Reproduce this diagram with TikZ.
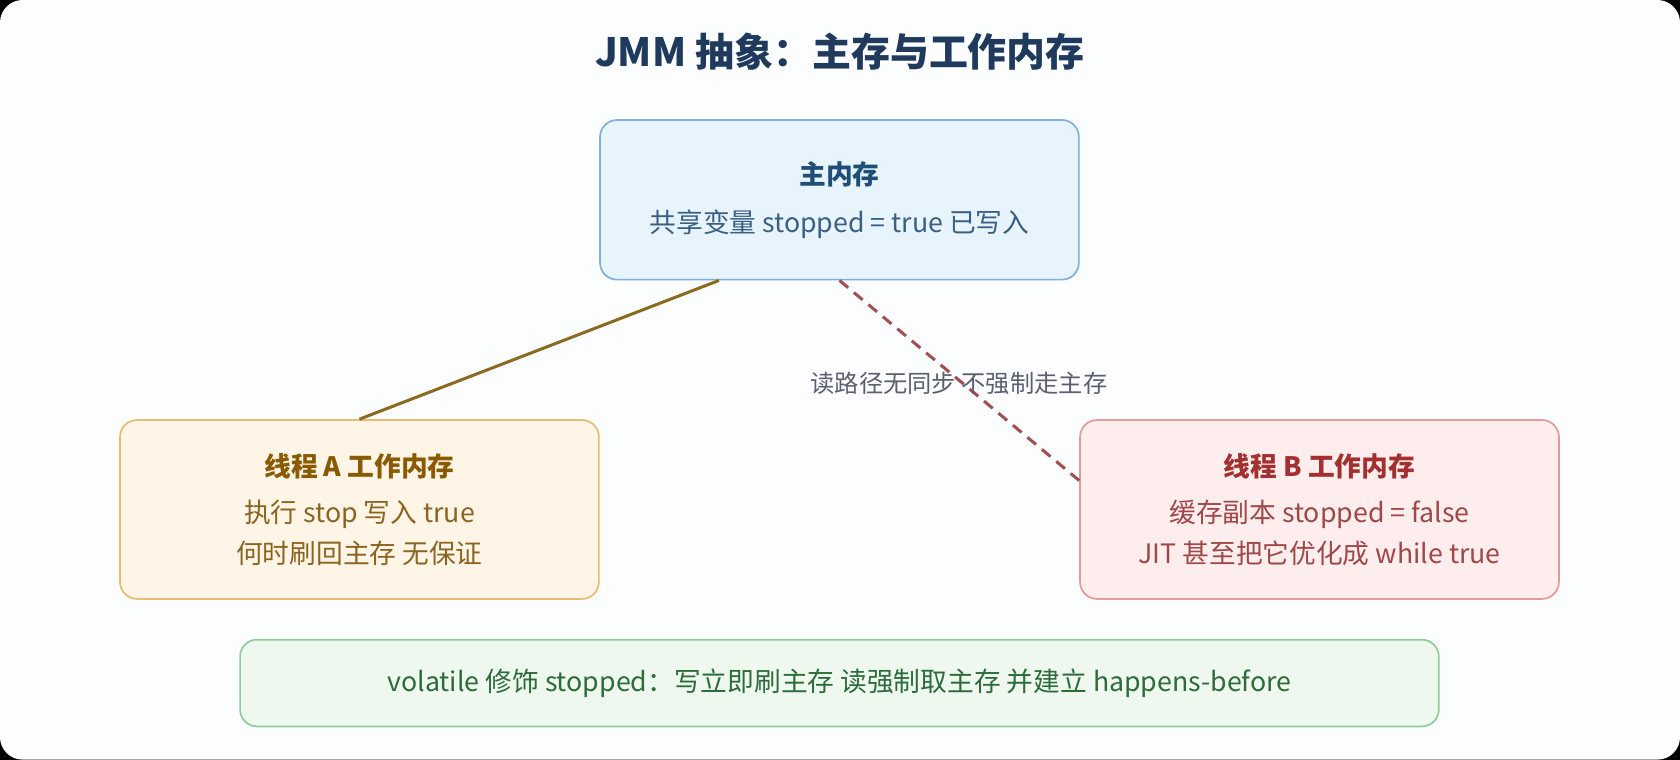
\documentclass[tikz,border=0pt]{standalone}
\usepackage{fontspec}
\setmainfont{Noto Sans CJK SC}
\usetikzlibrary{calc}
\definecolor{cardbg}{HTML}{FBFDFF}
\definecolor{titlec}{HTML}{1F3A5C}
\definecolor{mainfill}{HTML}{E8F4FC}
\definecolor{maindraw}{HTML}{7FB0DC}
\definecolor{maintitle}{HTML}{1F4E79}
\definecolor{maintext}{HTML}{3A5F85}
\definecolor{afill}{HTML}{FFF5E6}
\definecolor{adraw}{HTML}{E4BC72}
\definecolor{atitle}{HTML}{8A5A00}
\definecolor{atext}{HTML}{8A6420}
\definecolor{bfill}{HTML}{FDEDED}
\definecolor{bdraw}{HTML}{E09A9A}
\definecolor{btitle}{HTML}{A33030}
\definecolor{btext}{HTML}{A04848}
\definecolor{vfill}{HTML}{EEF8EE}
\definecolor{vdraw}{HTML}{8FCB9B}
\definecolor{vtext}{HTML}{2D6B3A}
\definecolor{alink}{HTML}{8B6A20}
\definecolor{blink}{HTML}{A05050}
\definecolor{note}{HTML}{5A6070}
\tikzset{
  box/.style={draw, rounded corners=9pt, line width=0.9pt, align=center,
    font=\fontsize{14.2}{21.5}\selectfont, inner sep=0pt},
}
\begin{document}
\begin{tikzpicture}[x=0.02cm, y=-0.02cm]
  \useasboundingbox (0,0) rectangle (1568,709);
  \fill[black] (0,0) rectangle (1568,709);
  \fill[cardbg, rounded corners=12pt] (0,0) rectangle (1568,709);

  \node[font=\fontsize{20.7}{24}\selectfont\bfseries, text=titlec] (title) at (784,48) {JMM 抽象：主存与工作内存};

  \node[box, fill=mainfill, draw=maindraw, minimum width=8.94cm, minimum height=2.98cm] (main) at (783.5,186.5)
    {{\bfseries\color{maintitle}主内存}\\[4pt]{\color{maintext}共享变量 stopped = true 已写入}};
  \node[box, fill=afill, draw=adraw, minimum width=8.94cm, minimum height=3.34cm, text=atext] (tha) at (335.5,475.5)
    {{\bfseries\color{atitle}线程 A 工作内存}\\[3pt]执行 stop 写入 true\\何时刷回主存 无保证};
  \node[box, fill=bfill, draw=bdraw, minimum width=8.94cm, minimum height=3.34cm, text=btext] (thb) at (1231.5,475.5)
    {{\bfseries\color{btitle}线程 B 工作内存}\\[3pt]缓存副本 stopped = false\\JIT 甚至把它优化成 while true};
  \node[box, fill=vfill, draw=vdraw, minimum width=22.38cm, minimum height=1.62cm, text=vtext] (vol) at (783.5,637.5)
    {volatile 修饰 stopped：写立即刷主存 读强制取主存 并建立 happens-before};

  \coordinate (aend) at ($(main.south)+(-112.5,0)$);
  \coordinate (bend) at ($(thb.west)+(0,-27)$);
  \draw[alink, line width=1.6pt] (aend) -- (tha.north);
  \draw[blink, line width=1.6pt, dash pattern=on 6pt off 4pt] (main.south) -- (bend);
  \node[font=\fontsize{12.9}{15}\selectfont, text=note] (lbl) at (895,358) {读路径无同步 不强制走主存};
\end{tikzpicture}
\end{document}
